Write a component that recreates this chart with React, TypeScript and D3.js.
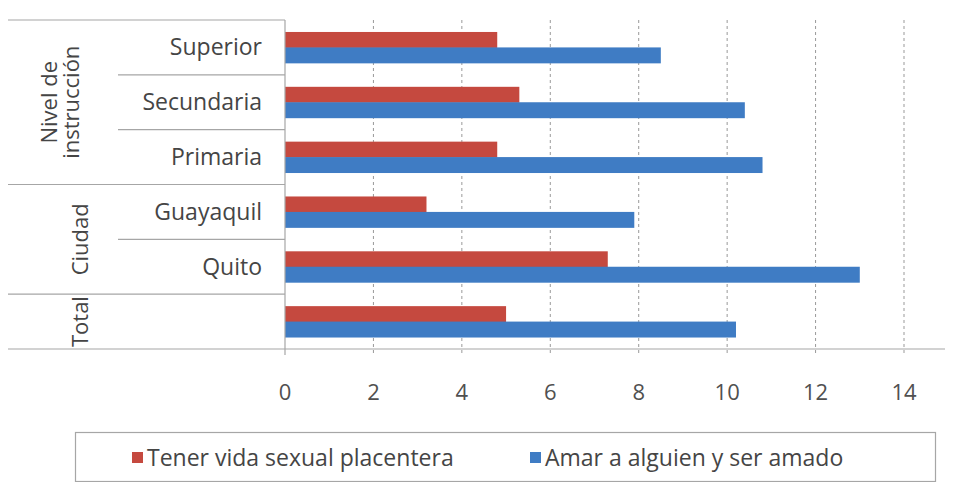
import React, { useEffect, useRef } from 'react';
import * as d3 from 'd3';

const categories = ['Superior', 'Secundaria', 'Primaria', 'Guayaquil', 'Quito', ''];
const sexualValues = [4.8, 5.3, 4.8, 3.2, 7.3, 5.0];
const amarValues = [8.5, 10.4, 10.8, 7.9, 13.0, 10.2];
const seriesNames = ['Tener vida sexual placentera', 'Amar a alguien y ser amado'];
const groups = [
  { lines: ['Nivel de', 'instrucción'], from: 0, to: 2 },
  { lines: ['Ciudad'], from: 3, to: 4 },
  { lines: ['Total'], from: 5, to: 5 },
];
const xTicks = [0, 2, 4, 6, 8, 10, 12, 14];

const colors = ['#C5493F', '#3F7CC4'];
const FONT = '"Open Sans", "Noto Sans", sans-serif';
const TEXT = '#454545';
const LINE = '#A6A6A6';

const App: React.FC = () => {
  const svgRef = useRef<SVGSVGElement>(null);

  useEffect(() => {
    if (!svgRef.current) return;
    const svg = d3.select(svgRef.current);
    svg.selectAll('*').remove();

    const width = 958;
    const height = 490;
    const plot = { left: 285, right: 904, top: 20, bottom: 349 };

    svg.attr('width', width).attr('height', height);
    svg.append('rect').attr('width', width).attr('height', height).attr('fill', '#fff');

    const x = d3.scaleLinear().domain([0, 14]).range([plot.left, plot.right]);
    const y = d3.scaleBand<number>()
      .domain(d3.range(categories.length))
      .range([plot.top, plot.bottom]);
    const sub = d3.scaleBand<number>()
      .domain([0, 1])
      .range([0, y.bandwidth()])
      .paddingInner(0)
      .paddingOuter(0.72);

    // dashed gridlines
    svg.append('g')
      .selectAll('line')
      .data(xTicks.slice(1))
      .enter()
      .append('line')
      .attr('x1', d => x(d))
      .attr('x2', d => x(d))
      .attr('y1', plot.top)
      .attr('y2', plot.bottom + 6)
      .attr('stroke', '#999')
      .attr('stroke-width', 1)
      .attr('stroke-dasharray', '3,3');

    // bars
    const series = [sexualValues, amarValues];
    series.forEach((vals, si) => {
      svg.append('g')
        .selectAll('rect')
        .data(vals)
        .enter()
        .append('rect')
        .attr('x', x(0))
        .attr('y', (_, i) => (y(i) as number) + (sub(si) as number) + (si === 0 ? 0.5 : 0))
        .attr('width', d => x(d) - x(0))
        .attr('height', sub.bandwidth())
        .attr('fill', colors[si]);
    });

    // axis line and left table lines
    const lines = svg.append('g').attr('stroke', LINE).attr('stroke-width', 1.2).attr('fill', 'none');
    lines.append('line').attr('x1', 5).attr('x2', 945).attr('y1', plot.bottom).attr('y2', plot.bottom);
    lines.append('line').attr('x1', 5).attr('x2', plot.left).attr('y1', plot.top).attr('y2', plot.top);
    lines.append('line').attr('x1', plot.left).attr('x2', plot.left).attr('y1', plot.top).attr('y2', plot.bottom + 6);

    groups.forEach(g => {
      for (let i = g.from; i <= g.to; i++) {
        const yb = (y(i) as number) + y.bandwidth();
        if (i === categories.length - 1) continue;
        lines.append('line')
          .attr('x1', i === g.to ? 5 : 118)
          .attr('x2', plot.left)
          .attr('y1', yb)
          .attr('y2', yb);
      }
    });

    // category labels
    svg.append('g')
      .selectAll('text')
      .data(categories)
      .enter()
      .append('text')
      .attr('x', 262)
      .attr('y', (_, i) => (y(i) as number) + y.bandwidth() / 2)
      .attr('dy', '0.35em')
      .attr('text-anchor', 'end')
      .attr('font-family', FONT)
      .attr('font-size', 23)
      .attr('fill', TEXT)
      .text(d => d);

    // group labels (rotated)
    groups.forEach(g => {
      const cy = ((y(g.from) as number) + (y(g.to) as number) + y.bandwidth()) / 2;
      const t = svg.append('text')
        .attr('transform', `translate(${g.lines.length > 1 ? 61 : 80},${cy}) rotate(-90)`)
        .attr('text-anchor', 'middle')
        .attr('font-family', FONT)
        .attr('font-size', 22)
        .attr('fill', TEXT);
      g.lines.forEach((l, li) => {
        t.append('tspan')
          .attr('x', 0)
          .attr('dy', li === 0 ? (g.lines.length > 1 ? '-0.2em' : '0.35em') : '1.0em')
          .text(l);
      });
    });

    // x tick labels
    svg.append('g')
      .selectAll('text')
      .data(xTicks)
      .enter()
      .append('text')
      .attr('x', d => x(d))
      .attr('y', 392)
      .attr('dy', '0.35em')
      .attr('text-anchor', 'middle')
      .attr('font-family', FONT)
      .attr('font-size', 22)
      .attr('fill', '#505050')
      .text(d => d);

    // legend
    const legend = svg.append('g');
    legend.append('rect')
      .attr('x', 75.5).attr('y', 432.5)
      .attr('width', 860).attr('height', 49)
      .attr('fill', '#fff')
      .attr('stroke', LINE)
      .attr('stroke-width', 1.2);
    const legendX = [132, 530];
    seriesNames.forEach((name, i) => {
      legend.append('rect')
        .attr('x', legendX[i]).attr('y', 452)
        .attr('width', 11).attr('height', 11)
        .attr('fill', colors[i]);
      legend.append('text')
        .attr('x', legendX[i] + 15)
        .attr('y', 458)
        .attr('dy', '0.35em')
        .attr('font-family', FONT)
        .attr('font-size', 23)
        .attr('fill', TEXT)
        .text(name);
    });
  }, []);

  return (
    <div style={{ margin: -8 }}>
      <svg ref={svgRef} style={{ display: 'block' }}></svg>
    </div>
  );
};

export default App;
